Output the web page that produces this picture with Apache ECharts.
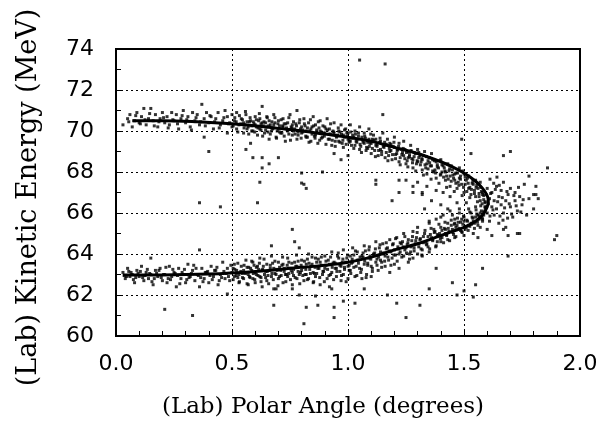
<!DOCTYPE html>
<html><head><meta charset="utf-8">
<script src="https://cdn.jsdelivr.net/npm/echarts@6/dist/echarts.min.js"></script>
<style>html,body{margin:0;padding:0;background:#fff}#c{width:602px;height:429px}</style>
</head><body><div id="c"></div>
<script>
// Axis ticks
const xTicks = [0.0, 0.5, 1.0, 1.5, 2.0];
const yTicks = [60, 62, 64, 66, 68, 70, 72, 74];

// Kinematic curve (solid line)
const curveX = [0.07,0.2,0.35,0.5,0.65,0.8,0.9,1.0,1.1,1.2,1.3,1.4,1.45,1.5,1.55,1.58,1.60,1.605,1.60,1.58,1.55,1.5,1.45,1.4,1.3,1.2,1.1,1.0,0.9,0.8,0.6,0.4,0.2,0.03];
const curveY = [70.5,70.5,70.45,70.35,70.2,70.0,69.85,69.7,69.5,69.2,68.9,68.5,68.25,67.95,67.55,67.2,66.85,66.6,66.3,65.9,65.6,65.3,65.1,64.9,64.5,64.2,63.85,63.6,63.45,63.35,63.15,63.02,62.98,62.98];

// Measured events: upper kinematic branch
const upperBand = [[0.03,70.3],[0.05,70.6],[0.06,70.8],[0.07,70.2],[0.08,70.5],[0.09,70.9],[0.10,70.4],[0.11,70.7],[0.12,71.1],[0.13,70.3],[0.14,70.6],[0.15,71.1],[0.16,70.5],[0.17,70.8],[0.18,70.2],[0.19,70.6],[0.20,70.9],[0.21,70.4],[0.22,70.7],[0.23,70.3],[0.24,70.9],[0.25,70.5],[0.26,70.8],[0.27,70.1],[0.28,70.6],[0.29,71.0],[0.30,70.4],[0.31,70.7],[0.32,70.2],[0.33,70.9],[0.34,70.5],[0.35,70.8],[0.36,70.3],[0.37,71.3],[0.38,69.7],[0.38,70.6],[0.39,70.9],[0.40,70.4],[0.41,70.7],[0.42,70.1],[0.43,70.6],[0.44,70.9],[0.45,70.3],[0.46,70.5],[0.47,71.0],[0.48,69.9],[0.48,70.7],[0.49,70.4],[0.50,70.8],[0.50,70.2],
[0.51,70.5],[0.52,70.1],[0.52,70.9],[0.53,70.3],[0.54,70.6],[0.55,69.9],[0.55,70.4],[0.56,70.8],[0.57,70.2],[0.58,69.4],[0.58,70.5],[0.59,70.0],[0.60,70.7],[0.60,70.3],[0.61,69.8],[0.62,70.6],[0.62,70.1],[0.63,71.2],[0.63,70.4],[0.64,69.9],[0.65,70.7],[0.65,70.2],[0.66,69.6],[0.66,70.5],[0.67,70.0],[0.68,70.8],[0.68,70.3],[0.69,69.7],[0.70,70.5],[0.70,70.1],[0.71,69.9],[0.72,70.6],[0.72,70.2],[0.73,69.5],[0.74,70.4],[0.74,70.0],[0.75,70.8],[0.76,69.8],[0.76,70.3],[0.77,70.1],[0.78,71.0],[0.78,69.6],[0.79,70.4],[0.80,69.9],[0.80,70.2],[0.81,70.6],[0.82,69.7],[0.82,70.0],[0.83,70.4],[0.84,69.5],[0.84,70.1],[0.85,70.7],[0.86,69.8],[0.86,70.3],[0.87,69.4],[0.88,70.0],[0.88,70.5],[0.89,69.7],[0.90,70.2],[0.90,69.9],[0.91,70.6],[0.92,69.6],[0.92,70.1],[0.93,69.3],[0.94,69.9],[0.94,70.4],[0.95,69.7],[0.96,70.0],[0.96,69.5],[0.97,70.3],[0.98,69.8],[0.98,69.2],[0.99,70.1],[1.00,69.6],[1.00,69.9],
[1.01,70.3],[1.01,69.5],[1.02,69.8],[1.03,69.3],[1.03,70.0],[1.04,69.6],[1.05,70.2],[1.05,69.1],[1.06,69.7],[1.07,69.4],[1.07,69.9],[1.08,69.2],[1.09,69.6],[1.09,70.1],[1.10,69.4],[1.10,68.9],[1.11,69.8],[1.12,69.3],[1.12,69.6],[1.13,68.8],[1.14,69.5],[1.14,69.1],[1.15,69.9],[1.16,69.3],[1.16,68.7],[1.17,69.6],[1.18,69.0],[1.18,69.4],[1.19,68.6],[1.20,69.2],[1.20,69.7],[1.21,68.9],[1.22,69.4],[1.22,68.5],[1.23,69.1],[1.24,68.8],[1.24,69.5],[1.25,68.4],[1.26,69.0],[1.26,68.7],[1.27,69.3],[1.28,68.6],[1.28,68.2],[1.29,68.9],[1.30,68.5],[1.30,69.1],[1.31,68.8],[1.32,68.1],[1.32,68.6],[1.33,69.0],[1.34,68.4],[1.34,67.9],[1.35,68.7],[1.36,68.3],[1.36,68.9],[1.37,68.0],[1.38,68.5],[1.38,67.7],[1.39,68.2],[1.40,68.6],[1.40,67.9],[1.41,68.3],[1.42,67.6],[1.42,68.0],[1.43,68.4],[1.44,67.8],[1.44,67.3],[1.45,68.1],[1.46,67.6],[1.46,67.9],[1.47,67.2],[1.48,67.7],[1.48,68.2],[1.49,67.4],[1.50,67.9],[1.50,67.0],[1.51,67.6],[1.52,67.2],[1.52,67.8],[1.53,66.9],[1.54,67.4],[1.55,67.6],[1.55,66.8],[1.56,67.2],[1.57,66.6],[1.57,67.5],[1.58,67.0]];

const upperBand2 = [[0.055,70.45],[0.085,70.75],[0.105,70.35],[0.125,70.55],[0.145,70.85],[0.165,70.25],[0.185,70.45],[0.205,70.65],[0.225,70.15],[0.245,70.55],[0.265,70.35],[0.285,70.75],[0.305,70.55],[0.325,70.05],[0.345,70.65],[0.365,70.45],[0.385,70.25],[0.405,70.75],[0.425,70.45],[0.445,70.15],[0.465,70.65],[0.485,70.35],
[0.505,70.25],[0.512,70.65],[0.518,70.45],[0.525,69.95],[0.532,70.75],[0.538,70.35],[0.545,70.55],[0.552,70.15],[0.558,70.95],[0.565,70.45],[0.572,69.85],[0.578,70.65],[0.585,70.25],[0.592,70.45],[0.598,69.95],[0.605,70.55],[0.612,70.15],[0.618,70.85],[0.625,70.35],[0.632,69.75],[0.638,70.45],[0.645,70.05],[0.652,70.65],[0.658,70.25],[0.665,69.85],[0.672,70.45],[0.678,70.15],[0.685,70.65],[0.692,69.65],[0.698,70.35],[0.705,69.95],[0.712,70.55],[0.718,70.25],[0.725,69.75],[0.732,70.35],[0.738,70.05],[0.745,70.65],[0.752,69.55],[0.758,70.15],[0.765,70.45],[0.772,69.85],[0.778,70.25],[0.785,69.95],[0.792,70.55],[0.798,69.65],[0.805,70.05],[0.812,70.35],[0.818,69.75],[0.825,70.15],[0.832,69.45],[0.838,70.55],[0.845,69.85],[0.852,70.25],[0.858,69.65],[0.865,70.05],[0.872,70.45],[0.878,69.55],[0.885,69.95],[0.892,70.25],[0.898,69.75],[0.905,69.35],[0.912,70.05],[0.918,69.85],[0.925,70.35],[0.932,69.55],[0.938,69.95],[0.945,69.25],[0.952,69.75],[0.958,70.15],[0.965,69.45],[0.972,69.85],[0.978,69.55],[0.985,70.05],[0.992,69.35],[0.998,69.75],
[1.005,69.45],[1.012,69.95],[1.018,69.65],[1.025,69.15],[1.032,69.85],[1.038,69.45],[1.045,69.75],[1.052,69.35],[1.058,68.95],[1.065,69.55],[1.072,69.75],[1.078,69.05],[1.085,69.45],[1.092,69.25],[1.098,69.85],[1.105,69.15],[1.112,69.55],[1.118,68.75],[1.125,69.35],[1.132,69.05],[1.138,69.65],[1.145,68.85],[1.152,69.25],[1.158,69.45],[1.165,68.95],[1.172,68.55],[1.178,69.15],[1.185,69.35],[1.192,68.85],[1.198,69.45],[1.205,68.65],[1.212,69.05],[1.218,69.25],[1.225,68.35],[1.232,68.85],[1.238,69.15],[1.245,68.65],[1.252,68.95],[1.258,68.25],[1.265,68.75],[1.272,69.05],[1.278,68.45],[1.285,68.75],[1.292,68.05],[1.298,68.55],[1.305,68.95],[1.312,68.35],[1.318,68.65],[1.325,67.85],[1.332,68.35],[1.338,68.75],[1.345,68.15],[1.352,68.45],[1.358,67.65],[1.365,68.05],[1.372,68.55],[1.378,67.95],[1.385,68.25],[1.392,67.45],[1.398,67.85],[1.405,68.35],[1.412,67.75],[1.418,68.05],[1.425,67.25],[1.432,67.65],[1.438,68.15],[1.445,67.55],[1.452,67.85],[1.458,67.05],[1.465,67.45],[1.472,67.95],[1.478,67.35],[1.485,67.65],[1.492,66.85],[1.498,67.25],[1.505,67.75],[1.512,67.05],[1.518,67.45],[1.525,66.75],[1.532,67.15],[1.538,67.55],[1.545,66.95],[1.552,67.25],[1.558,66.55],[1.565,66.95],[1.572,67.25],[1.578,66.45],[1.585,66.85],[1.592,66.25]];

const upperBand3 = [[0.555,70.3],[0.565,70.1],[0.575,70.45],[0.585,70.0],[0.595,70.35],[0.605,70.2],[0.615,70.5],[0.625,70.05],[0.635,70.25],[0.645,70.4],[0.655,69.95],[0.665,70.3],[0.675,70.1],[0.685,70.4],[0.695,70.0],[0.705,70.25],[0.715,69.9],[0.725,70.35],[0.735,70.15],[0.745,69.85],[0.755,70.2],[0.765,70.0],[0.775,70.35],[0.785,69.8],[0.795,70.1],[0.805,69.95],[0.815,70.25],[0.825,69.7],[0.835,70.0],[0.845,70.2],[0.855,69.75],[0.865,69.95],[0.875,70.15],[0.885,69.65],[0.895,69.9],[0.905,70.1],[0.915,69.6],[0.925,69.85],[0.935,70.0],[0.945,69.5],[0.955,69.8],[0.965,69.95],[0.975,69.4],[0.985,69.7],[0.995,69.9],[1.005,69.55],[1.015,69.3],[1.025,69.7],[1.035,69.5],[1.045,69.9],[1.055,69.25],[1.065,69.45],[1.075,69.65],[1.085,69.15],[1.095,69.4],[1.105,69.6],[1.115,69.05],[1.125,69.25],[1.135,69.45],[1.145,69.0],[1.155,69.2],[1.165,69.35],[1.175,68.8],[1.185,69.05],[1.195,69.25],[1.205,68.85],[1.215,69.1],[1.225,68.7],[1.235,68.95],[1.245,69.1],[1.255,68.55],[1.265,68.85],[1.275,68.65],[1.285,68.95],[1.295,68.4],[1.305,68.7],[1.315,68.5],[1.325,68.8],[1.335,68.2],[1.345,68.55],[1.355,68.3],[1.365,68.6],[1.375,68.1],[1.385,68.35],[1.395,68.55],[1.405,68.0],[1.415,68.2],[1.425,67.8],[1.435,68.05],[1.445,68.3],[1.455,67.7],[1.465,67.95],[1.475,67.5],[1.485,67.8],[1.495,68.05],[1.505,67.4],[1.515,67.7],[1.525,67.25],[1.535,67.45],[1.545,67.1],[1.555,67.35],[1.565,66.8],[1.575,67.05],[1.585,66.65],[1.595,66.9]];

// Measured events: turning region of the curve
const noseBand = [[1.59,66.5],[1.60,67.2],[1.60,66.0],[1.61,66.7],[1.61,65.6],[1.62,66.3],[1.62,67.0],[1.63,66.6],[1.63,65.9],[1.64,67.3],[1.64,66.2],[1.65,66.8],[1.65,65.5],[1.66,67.1],[1.66,66.4],[1.67,66.0],[1.67,67.5],[1.68,66.6],[1.68,65.3],[1.69,66.9],[1.70,66.3],[1.70,67.2],[1.71,65.8],[1.72,66.6],[1.72,67.0],[1.73,66.1],[1.74,65.0],[1.74,66.8],[1.75,66.4],[1.76,67.4],[1.77,65.9],[1.78,66.7],[1.80,66.2],[1.81,67.3],[1.80,66.9],[1.82,66.7],[1.58,65.7],[1.59,66.1],[1.57,65.3],[1.56,65.9],[1.55,66.3],[1.54,65.6],[1.56,64.8],[1.58,66.9],[1.53,66.0],[1.52,65.4],[1.51,66.5],[1.60,65.2],[1.62,64.9],[1.50,65.8],[1.48,66.2],[1.46,65.5],
[1.30,67.5],[1.32,66.9],[1.34,67.3],[1.36,66.6],[1.38,67.1],[1.40,66.4],[1.41,67.0],[1.43,66.2],[1.44,66.8],[1.45,65.9],[1.47,66.5],[1.49,65.7],[1.28,67.0],[1.25,67.6],[1.35,65.6],[1.42,65.2],[1.40,65.8],[1.33,66.2],
[1.605,66.45],[1.615,66.95],[1.625,66.15],[1.635,67.15],[1.645,66.55],[1.655,65.85],[1.665,66.75],[1.675,66.25],[1.685,67.05],[1.695,66.45],[1.705,65.95],[1.715,66.85],[1.725,66.35],[1.735,67.25],[1.745,66.05],[1.755,66.65],[1.612,65.85],[1.628,67.45],[1.652,67.35],[1.668,65.65],[1.688,65.75],[1.612,67.65],[1.642,67.75]];

// Measured events: lower kinematic branch
const lowerBand = [[0.03,63.1],[0.04,62.8],[0.05,63.3],[0.06,62.9],[0.07,63.0],[0.08,62.6],[0.09,63.2],[0.10,62.9],[0.11,63.4],[0.12,62.7],[0.13,63.1],[0.14,62.8],[0.15,63.8],[0.15,63.0],[0.16,62.5],[0.17,63.2],[0.18,62.9],[0.19,63.3],[0.20,62.7],[0.21,63.0],[0.22,62.6],[0.23,63.4],[0.24,62.9],[0.25,63.1],[0.26,62.4],[0.27,63.3],[0.28,62.8],[0.29,63.0],[0.30,62.6],[0.31,63.5],[0.32,62.9],[0.33,63.2],[0.34,62.7],[0.35,63.0],[0.36,62.4],[0.36,64.2],[0.37,63.3],[0.38,62.8],[0.39,63.1],[0.40,62.6],[0.41,63.4],[0.42,62.9],[0.43,63.2],[0.44,62.5],[0.45,63.0],[0.46,63.6],[0.47,62.8],[0.48,63.3],[0.48,62.05],[0.49,62.7],[0.50,63.1],
[0.51,62.9],[0.51,63.5],[0.52,63.2],[0.53,62.6],[0.53,63.0],[0.54,63.4],[0.55,62.8],[0.55,63.2],[0.56,63.7],[0.57,62.5],[0.57,63.0],[0.58,63.3],[0.59,62.8],[0.59,63.6],[0.60,63.1],[0.60,62.6],[0.61,63.4],[0.62,62.9],[0.62,63.8],[0.63,63.2],[0.63,62.4],[0.64,63.0],[0.65,63.5],[0.65,62.7],[0.66,63.2],[0.67,63.9],[0.67,62.9],[0.68,63.3],[0.68,62.3],[0.69,63.0],[0.70,63.6],[0.70,62.8],[0.71,63.2],[0.72,62.6],[0.72,63.5],[0.73,63.0],[0.74,63.8],[0.74,62.9],[0.75,63.3],[0.76,62.5],[0.76,63.1],[0.77,63.6],[0.78,62.8],[0.78,63.4],[0.79,63.0],[0.79,62.0],[0.80,63.7],[0.80,63.2],[0.81,62.7],[0.82,63.5],[0.82,63.0],[0.83,64.0],[0.83,62.8],[0.84,63.4],[0.85,62.6],[0.85,63.1],[0.86,63.8],[0.86,62.9],[0.87,63.3],[0.88,62.5],[0.88,63.6],[0.89,63.0],[0.90,63.9],[0.90,63.3],[0.91,62.8],[0.92,63.5],[0.92,62.4],[0.93,63.1],[0.93,64.1],[0.94,63.6],[0.95,62.9],[0.95,63.3],[0.96,63.8],[0.97,62.7],[0.97,63.4],[0.98,64.2],[0.98,63.0],[0.99,63.6],[1.00,62.8],[1.00,63.4],
[1.01,63.9],[1.01,63.2],[1.02,64.3],[1.02,63.6],[1.03,62.9],[1.04,63.7],[1.04,64.1],[1.05,63.3],[1.06,63.9],[1.06,62.8],[1.07,64.4],[1.07,63.5],[1.08,63.0],[1.09,63.8],[1.09,64.2],[1.10,63.4],[1.10,62.9],[1.11,64.0],[1.12,63.6],[1.12,64.6],[1.13,63.2],[1.14,64.1],[1.14,63.7],[1.15,64.5],[1.16,63.4],[1.16,63.9],[1.17,64.3],[1.18,63.1],[1.18,64.7],[1.19,63.8],[1.20,64.2],[1.20,63.5],[1.21,64.8],[1.22,64.0],[1.22,63.3],[1.23,64.5],[1.24,63.9],[1.24,65.0],[1.25,64.3],[1.26,63.6],[1.26,64.7],[1.27,64.1],[1.28,65.1],[1.28,63.8],[1.29,64.5],[1.30,64.0],[1.30,65.3],[1.31,64.7],[1.32,64.2],[1.32,63.9],[1.33,65.0],[1.34,64.5],[1.35,65.5],[1.35,64.1],[1.36,64.8],[1.37,65.2],[1.38,64.4],[1.38,65.7],[1.39,64.9],[1.40,65.3],[1.40,64.6],[1.41,65.9],[1.42,65.0],[1.43,64.7],[1.43,65.5],[1.44,66.1],[1.45,65.2],[1.46,64.8],[1.46,65.7],[1.47,65.4],[1.48,66.0],[1.49,65.1],[1.50,65.6],[1.50,64.9],[1.51,65.3],[1.52,66.2],[1.53,65.5],[1.54,65.0],[1.55,65.8],[1.56,65.4],[1.57,66.0],[1.58,65.6],[1.59,66.3]];

const lowerBand2 = [[0.035,62.95],[0.055,63.15],[0.075,62.75],[0.095,63.05],[0.115,62.85],[0.135,63.25],[0.155,62.65],[0.175,63.05],[0.195,62.85],[0.215,63.35],[0.235,62.75],[0.255,63.05],[0.275,62.55],[0.295,63.25],[0.315,62.85],[0.335,63.45],[0.355,62.95],[0.375,62.65],[0.395,63.15],[0.415,62.75],[0.435,63.35],[0.455,62.85],[0.475,63.05],[0.495,63.45],
[0.505,62.75],[0.512,63.25],[0.518,62.95],[0.525,63.55],[0.532,62.65],[0.538,63.15],[0.545,62.85],[0.552,63.45],[0.558,63.05],[0.565,62.55],[0.572,63.35],[0.578,62.85],[0.585,63.65],[0.592,63.05],[0.598,62.75],[0.605,63.35],[0.612,62.95],[0.618,63.55],[0.625,62.65],[0.632,63.25],[0.638,63.75],[0.645,62.85],[0.652,63.15],[0.658,62.55],[0.665,63.45],[0.672,63.05],[0.678,62.75],[0.685,63.65],[0.692,63.25],[0.698,62.45],[0.705,63.35],[0.712,62.95],[0.718,63.85],[0.725,63.15],[0.732,62.65],[0.738,63.45],[0.745,63.05],[0.752,62.75],[0.758,63.55],[0.765,63.25],[0.772,62.85],[0.778,63.95],[0.785,63.15],[0.792,62.55],[0.798,63.45],[0.805,62.95],[0.812,63.65],[0.818,63.25],[0.825,62.75],[0.832,63.55],[0.838,63.05],[0.845,63.85],[0.852,62.65],[0.858,63.35],[0.865,63.05],[0.872,63.75],[0.878,62.85],[0.885,63.45],[0.892,63.15],[0.898,62.65],[0.905,63.65],[0.912,63.25],[0.918,62.95],[0.925,63.85],[0.932,63.35],[0.938,62.75],[0.945,63.55],[0.952,63.15],[0.958,64.05],[0.965,63.45],[0.972,62.95],[0.978,63.75],[0.985,63.25],[0.992,62.65],[0.998,63.95],
[1.005,63.45],[1.012,63.05],[1.018,63.75],[1.025,63.35],[1.032,64.15],[1.038,62.95],[1.045,63.55],[1.052,63.85],[1.058,63.25],[1.065,64.05],[1.072,63.65],[1.078,62.85],[1.085,63.45],[1.092,64.35],[1.098,63.75],[1.105,63.15],[1.112,63.95],[1.118,64.25],[1.125,63.45],[1.132,63.85],[1.138,64.45],[1.145,63.35],[1.152,64.05],[1.158,63.65],[1.165,64.55],[1.172,63.85],[1.178,64.15],[1.185,63.45],[1.192,64.45],[1.198,63.95],[1.205,64.75],[1.212,63.65],[1.218,64.25],[1.225,64.55],[1.232,63.85],[1.238,64.35],[1.245,64.85],[1.252,64.05],[1.258,64.55],[1.265,63.75],[1.272,64.35],[1.278,64.85],[1.285,64.15],[1.292,64.65],[1.298,65.05],[1.305,64.35],[1.312,64.75],[1.318,63.95],[1.325,64.55],[1.332,65.15],[1.338,64.45],[1.345,64.85],[1.352,64.25],[1.358,65.25],[1.365,64.65],[1.372,65.05],[1.378,64.35],[1.385,64.95],[1.392,65.45],[1.398,64.75],[1.405,65.15],[1.412,64.55],[1.418,65.55],[1.425,64.95],[1.432,65.25],[1.438,64.65],[1.445,65.65],[1.452,65.05],[1.458,65.45],[1.465,64.85],[1.472,65.75],[1.478,65.25],[1.485,65.55],[1.492,65.05],[1.498,65.85],[1.505,65.35],[1.512,65.65],[1.518,65.15],[1.525,66.05],[1.532,65.45],[1.538,65.75],[1.545,65.25],[1.552,66.15],[1.558,65.55],[1.565,65.85],[1.572,66.35],[1.578,65.75],[1.585,66.05],[1.592,66.55]];

const lowerBand3 = [[0.045,62.9],[0.065,63.1],[0.085,62.85],[0.105,63.15],[0.125,62.95],[0.145,63.05],[0.165,62.8],[0.185,63.2],[0.205,63.0],[0.225,62.8],[0.245,63.25],[0.265,62.95],[0.285,63.1],[0.305,62.75],[0.325,63.05],[0.345,63.3],[0.365,62.85],[0.385,63.1],[0.405,62.95],[0.425,63.2],[0.445,62.7],[0.465,63.15],[0.485,62.9],[0.505,63.3],[0.525,62.85],[0.545,63.05],
[0.555,63.1],[0.565,63.35],[0.575,62.9],[0.585,63.2],[0.595,63.45],[0.605,63.0],[0.615,63.25],[0.625,62.85],[0.635,63.4],[0.645,63.15],[0.655,62.95],[0.665,63.3],[0.675,63.55],[0.685,63.05],[0.695,63.2],[0.705,62.9],[0.715,63.45],[0.725,63.3],[0.735,63.0],[0.745,63.6],[0.755,63.2],[0.765,62.95],[0.775,63.4],[0.785,63.65],[0.795,63.1],[0.805,63.35],[0.815,63.0],[0.825,63.75],[0.835,63.25],[0.845,63.5],[0.855,63.05],[0.865,63.6],[0.875,63.3],[0.885,63.85],[0.895,63.15],[0.905,63.45],[0.915,63.7],[0.925,63.0],[0.935,63.55],[0.945,63.3],[0.955,63.9],[0.965,63.15],[0.975,63.6],[0.985,63.35],[0.995,63.8],[1.005,63.2],[1.015,63.55],[1.025,63.95],[1.035,63.4],[1.045,63.7],[1.055,63.1],[1.065,63.85],[1.075,64.15],[1.085,63.55],[1.095,63.9],[1.105,63.3],[1.115,64.05],[1.125,63.75],[1.135,64.3],[1.145,63.6],[1.155,64.0],[1.165,64.25],[1.175,63.7],[1.185,64.1],[1.195,64.5],[1.205,63.95],[1.215,64.35],[1.225,64.1],[1.235,64.6],[1.245,64.2],[1.255,64.45],[1.265,64.0],[1.275,64.65],[1.285,64.3],[1.295,64.8],[1.305,64.5],[1.315,64.25],[1.325,64.85],[1.335,64.6],[1.345,64.35],[1.355,64.95],[1.365,64.7],[1.375,65.1],[1.385,64.6],[1.395,65.0],[1.405,64.8],[1.415,65.25],[1.425,64.9],[1.435,65.1],[1.445,65.4],[1.455,64.95],[1.465,65.3],[1.475,65.55],[1.485,65.15],[1.495,65.45],[1.505,65.2],[1.515,65.6],[1.525,65.35],[1.535,65.8],[1.545,65.5],[1.555,65.95],[1.565,65.7],[1.575,66.1],[1.585,65.9],[1.595,66.3]];

// Measured events: scattered background
const outliers = [[1.05,73.46],[1.16,73.27],[1.15,70.8],[1.67,68.8],[1.70,69.0],[1.86,68.2],[1.78,67.8],[0.81,67.4],[0.89,68.0],[1.12,67.6],[1.22,67.6],[0.62,67.5],[0.80,67.46],[0.82,67.2],[0.36,66.5],[0.61,66.5],[0.76,65.2],[0.77,64.6],[0.79,64.3],[0.67,64.4],[0.21,61.3],[0.33,61.0],[0.68,61.5],[0.82,61.4],[0.87,61.5],[0.81,60.6],[0.94,61.4],[0.94,60.9],[0.69,62.3],[0.76,62.3],[0.86,61.95],[0.93,62.3],[0.98,61.7],[1.22,67.0],[1.19,66.6],[1.28,67.3],[1.32,67.0],[1.81,66.9],[1.73,65.0],[1.69,64.9],[1.67,65.2],[1.69,63.9],[1.58,63.3],[1.55,62.5],[1.54,61.9],[1.50,62.2],[1.47,62.0],[1.38,63.3],[1.35,62.3],[1.31,61.5],[1.25,60.9],[1.21,61.6],[1.17,62.0],[1.07,62.3],[1.03,61.6],[1.90,64.9],[1.89,64.7],[0.56,69.1],[0.59,68.7],[0.63,68.7],[0.70,68.7],[0.66,68.4],[0.63,68.2],[0.80,67.95],[0.97,68.6],[0.94,68.9],[1.00,68.8],[1.45,62.6],[0.45,66.3],[0.40,69.0],[1.49,69.6],[1.53,68.9],[1.12,67.4]];

const chart = echarts.init(document.getElementById('c'), null, {renderer: 'canvas'});
const events = upperBand.concat(upperBand2, upperBand3, noseBand, lowerBand, lowerBand2, lowerBand3, outliers);
const curve = curveX.map((x, i) => [x, curveY[i]]);
const tickFont = {fontFamily: 'DejaVu Sans', fontSize: 22, color: '#000'};
const dotted = {color: '#000', width: 1, type: [2, 3]};

chart.setOption({
  animation: false,
  backgroundColor: '#fff',
  grid: {left: 116, right: 22, top: 49, bottom: 93, show: true, borderColor: '#000', borderWidth: 2, backgroundColor: 'transparent'},
  xAxis: {
    type: 'value', min: xTicks[0], max: xTicks[xTicks.length - 1], interval: 0.5,
    name: '(Lab) Polar Angle (degrees)', nameLocation: 'middle', nameGap: 60,
    nameTextStyle: {fontFamily: 'DejaVu Serif', fontSize: 23, color: '#000', padding: [0, 50, 0, 0]},
    axisLine: {lineStyle: {color: '#000', width: 2}},
    axisTick: {show: true, inside: true, length: 6, lineStyle: {color: '#000'}},
    minorTick: {show: true, splitNumber: 5, length: 5, lineStyle: {color: '#000'}},
    splitLine: {show: true, lineStyle: dotted},
    axisLabel: Object.assign({margin: 17, formatter: v => v.toFixed(1)}, tickFont)
  },
  yAxis: {
    type: 'value', min: yTicks[0], max: yTicks[yTicks.length - 1], interval: 2,
    name: '(Lab) Kinetic Energy (MeV)', nameLocation: 'middle', nameGap: 74, nameRotate: 90,
    nameTextStyle: {fontFamily: 'DejaVu Serif', fontSize: 27, color: '#000', padding: [0, 10, 0, 0]},
    axisLine: {lineStyle: {color: '#000', width: 2}},
    axisTick: {show: true, inside: true, length: 6, lineStyle: {color: '#000'}},
    minorTick: {show: true, splitNumber: 2, length: 5, lineStyle: {color: '#000'}},
    splitLine: {show: true, lineStyle: dotted},
    axisLabel: Object.assign({margin: 22}, tickFont)
  },
  series: [
    {type: 'scatter', data: events, symbol: 'rect', symbolSize: 3,
     itemStyle: {color: '#000'}, silent: true, z: 2},
    {type: 'line', data: curve, smooth: 0.4, showSymbol: false,
     lineStyle: {color: '#000', width: 3}, silent: true, z: 3}
  ]
});
</script></body></html>
